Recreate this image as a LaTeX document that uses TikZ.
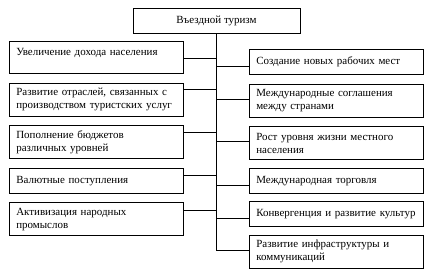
\documentclass[tikz,border=0pt]{standalone}
\usepackage{fontspec}
\setmainfont{Liberation Serif}
\usetikzlibrary{positioning}

\begin{document}
\begin{tikzpicture}[x=1bp, y=-1bp, node distance=9bp]
        \tikzset{factor/.style={rectangle, draw, line width=0.6bp, align=left, text width=160bp, inner xsep=7bp, inner ysep=3bp, minimum height=25bp, font=\fontsize{11}{13}\selectfont}, tworow/.style={factor, minimum height=33bp}, headbox/.style={rectangle, draw, line width=0.6bp, minimum width=167bp, minimum height=25bp, font=\fontsize{11}{13}\selectfont}}
        \useasboundingbox (0,0) rectangle (429,273);
        \node[headbox] (tourism) at (216.5,20.5) {Въездной туризм};
        % left column
        \node[factor, anchor=north west, text height=11bp, text depth=15bp] (income) at (9,41) {Увеличение дохода населения};
        \node[tworow, below=of income] (branches) {Развитие отраслей, связанных с\\производством туристских услуг};
        \node[tworow, below=of branches] (budget) {Пополнение бюджетов\\различных уровней};
        \node[factor, below=of budget] (currency) {Валютные поступления};
        \node[tworow, below=of currency] (crafts) {Активизация народных\\промыслов};
        % right column
        \node[factor, anchor=north west] (jobs) at (249,49) {Создание новых рабочих мест};
        \node[tworow, below=of jobs] (treaties) {Международные соглашения\\между странами};
        \node[tworow, below=of treaties] (living) {Рост уровня жизни местного\\населения};
        \node[factor, below=8bp of living] (trade) {Международная торговля};
        \node[factor, below=8bp of trade] (culture) {Конвергенция и развитие культур};
        \node[tworow, below=8bp of culture] (infra) {Развитие инфраструктуры и\\коммуникаций};
        \draw[line width=0.6bp] (tourism.south) |- ([yshift=-15bp]infra.north west);
        \draw[line width=0.6bp] ([yshift=-17bp]income.north east) -- +(33bp,0);
        \draw[line width=0.6bp] ([yshift=-7bp]branches.north east) -- +(33bp,0);
        \draw[line width=0.6bp] ([yshift=-7bp]budget.north east) -- +(33bp,0);
        \draw[line width=0.6bp] ([yshift=-7bp]currency.north east) -- +(33bp,0);
        \draw[line width=0.6bp] ([yshift=-8bp]crafts.north east) -- +(33bp,0);
        \draw[line width=0.6bp] ([yshift=-17bp]jobs.north west) -- +(-33bp,0);
        \draw[line width=0.6bp] ([yshift=-16bp]treaties.north west) -- +(-33bp,0);
        \draw[line width=0.6bp] ([yshift=-15bp]living.north west) -- +(-33bp,0);
        \draw[line width=0.6bp] ([yshift=-17bp]trade.north west) -- +(-33bp,0);
        \draw[line width=0.6bp] ([yshift=-17bp]culture.north west) -- +(-33bp,0);
    \end{tikzpicture}
\end{document}
